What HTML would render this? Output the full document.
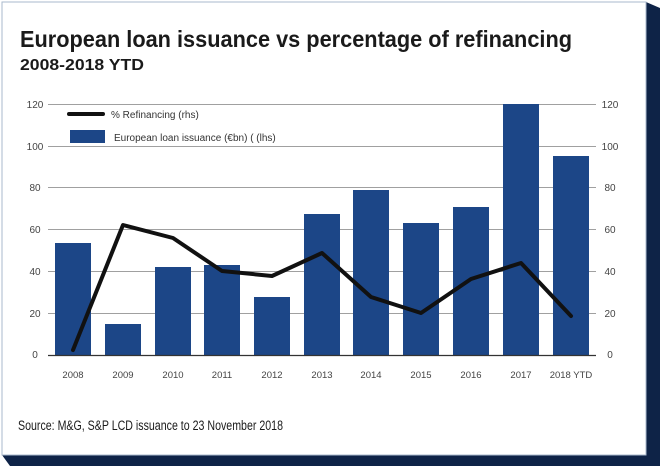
<!DOCTYPE html>
<html><head><style>
body{margin:0;width:660px;height:466px;overflow:hidden;background:#fff;font-family:"Liberation Sans",sans-serif}
</style></head><body>
<svg width="660" height="466" xmlns="http://www.w3.org/2000/svg">
<rect x="0" y="0" width="660" height="466" fill="#fff"/>
<polygon points="646,2 660,8 660,466 10,466 2,455 646,455" fill="#0e2347"/>
<rect x="2" y="2" width="644" height="453" fill="#fff" stroke="#a9b8cc" stroke-width="1"/>
<text x="20" y="47" font-size="23" font-weight="bold" fill="#1a1a1a" font-family="Liberation Sans,sans-serif" textLength="552" lengthAdjust="spacingAndGlyphs">European loan issuance vs percentage of refinancing</text>
<text x="20" y="70" font-size="16" font-weight="bold" fill="#1a1a1a" textLength="124" lengthAdjust="spacingAndGlyphs">2008-2018 YTD</text>
<g stroke="#a0a0a0" stroke-width="1">
<line x1="48" x2="596" y1="104.5" y2="104.5"/><line x1="48" x2="596" y1="146.5" y2="146.5"/>
<line x1="48" x2="596" y1="187.5" y2="187.5"/><line x1="48" x2="596" y1="229.5" y2="229.5"/>
<line x1="48" x2="596" y1="271.5" y2="271.5"/><line x1="48" x2="596" y1="313.5" y2="313.5"/>
</g>
<g font-size="10" fill="#444" text-anchor="middle">
<text x="35" y="108">120</text><text x="35" y="150">100</text><text x="35" y="191">80</text><text x="35" y="233">60</text><text x="35" y="275">40</text><text x="35" y="317">20</text><text x="35" y="358">0</text>
<text x="610" y="108">120</text><text x="610" y="150">100</text><text x="610" y="191">80</text><text x="610" y="233">60</text><text x="610" y="275">40</text><text x="610" y="317">20</text><text x="610" y="358">0</text>
</g>
<g fill="#1c4687">
<rect x="55" y="243" width="36" height="112"/>
<rect x="105" y="324" width="36" height="31"/>
<rect x="155" y="267" width="36" height="88"/>
<rect x="204" y="265" width="36" height="90"/>
<rect x="254" y="297" width="36" height="58"/>
<rect x="304" y="214" width="36" height="141"/>
<rect x="353" y="190" width="36" height="165"/>
<rect x="403" y="223" width="36" height="132"/>
<rect x="453" y="207" width="36" height="148"/>
<rect x="503" y="104" width="36" height="251"/>
<rect x="553" y="156" width="36" height="199"/>
</g>
<line x1="48" x2="596" y1="355.5" y2="355.5" stroke="#333" stroke-width="1.2"/>
<polyline points="73,350 123,225 173,238 222,271 272,276 322,253 371,297 421,313 471,279 521,263 571,316" fill="none" stroke="#111" stroke-width="4" stroke-linejoin="round" stroke-linecap="round"/>
<g font-size="9.5" fill="#444" text-anchor="middle">
<text x="73" y="378">2008</text><text x="123" y="378">2009</text><text x="173" y="378">2010</text><text x="222" y="378">2011</text><text x="272" y="378">2012</text><text x="322" y="378">2013</text><text x="371" y="378">2014</text><text x="421" y="378">2015</text><text x="471" y="378">2016</text><text x="521" y="378">2017</text><text x="571" y="378">2018 YTD</text>
</g>
<line x1="69" x2="103" y1="114" y2="114" stroke="#111" stroke-width="4" stroke-linecap="round"/>
<text x="111" y="118" font-size="10" fill="#333">% Refinancing  (rhs)</text>
<rect x="70" y="130" width="35" height="13" fill="#1c4687"/>
<text x="114" y="141" font-size="10" fill="#333">European loan issuance (€bn) ( (lhs)</text>
<text x="18" y="430" font-size="13.5" fill="#1a1a1a" textLength="265" lengthAdjust="spacingAndGlyphs">Source: M&amp;G, S&amp;P LCD issuance to 23 November 2018</text>
</svg>
</body></html>
